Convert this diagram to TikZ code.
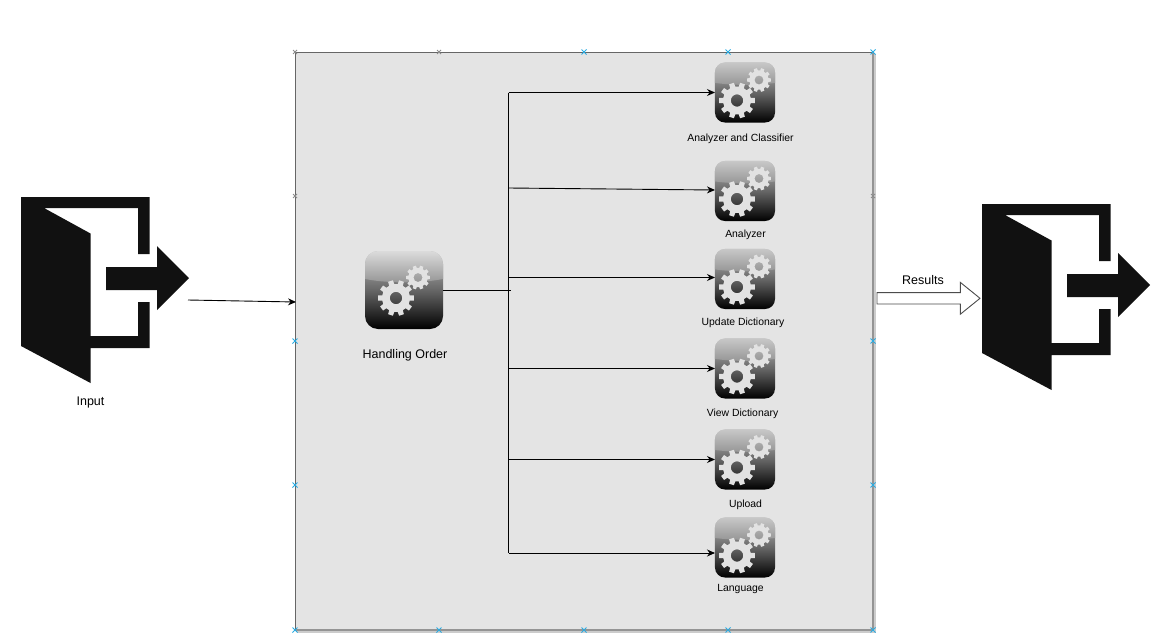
\documentclass[tikz,border=0pt]{standalone}
\usepackage{fontspec}
\setmainfont{Liberation Sans}
\usetikzlibrary{arrows.meta, calc, positioning, shapes.misc, shapes.arrows}
\definecolor{panelgrey}{HTML}{E4E4E4}
\definecolor{gearwhite}{HTML}{E2E2E2}
\definecolor{doorblack}{HTML}{111111}
\definecolor{tickblue}{HTML}{29ABE2}
\newcommand{\gearwheel}[5]{%
  \fill[gearwhite,even odd rule,sharp corners] ({#1+#3*cos(-8)},{#2+#3*sin(-8)})
    \foreach \a in {0,36,...,324} {
      -- ({#1+#3*cos(\a-8)},{#2+#3*sin(\a-8)}) -- ({#1+#3*cos(\a+8)},{#2+#3*sin(\a+8)})
      -- ({#1+#4*cos(\a+11)},{#2+#4*sin(\a+11)}) -- ({#1+#4*cos(\a+25)},{#2+#4*sin(\a+25)})
    }
    -- cycle (#1,#2) circle [radius=#5];
}
\tikzset{
  pto/.style={-{Stealth[length=8pt,width=7pt]},line width=0.9pt,black},
  alin/.style={line width=0.9pt,black},
  panel/.style={draw=black!60,fill=panelgrey,line width=0.9pt,minimum size=578pt,inner sep=0pt},
  crossmark/.style={cross out,draw=tickblue,line width=0.9pt,minimum size=5pt,inner sep=0pt,outer sep=0pt},
  greymark/.style={crossmark,draw=black!45,minimum size=4pt},
  small/.style={font=\fontsize{10.4}{12}\selectfont,inner sep=0pt},
  large/.style={font=\fontsize{12.5}{14}\selectfont,inner sep=0pt},
  icon/.style={rectangle,rounded corners=#1*13pt,minimum size=#1*78pt,inner sep=0pt,outer sep=0pt,
    top color=black!25,bottom color=black,middle color=black!60,
    path picture={
      \begin{scope}[shift={(path picture bounding box.center)},scale=#1,sharp corners]
        \shade[top color=black!14,bottom color=black!42] (-39,-39) -- (39,-39) -- (39,-11) .. controls (15,-6.5) and (-15,-6.5) .. (-39,-11) -- cycle;
        \gearwheel{-8}{8}{18}{14}{6.2}
        \gearwheel{14}{-12.5}{12}{9.6}{4.5}
      \end{scope}
    }},
  door/.style={minimum width=168pt,minimum height=186pt,inner sep=0pt,outer sep=0pt,
    path picture={
      \begin{scope}[shift={(path picture bounding box.center)}]
        \fill[doorblack] (-84,-93) -- (44.5,-93) -- (44.5,-36) -- (33,-36) -- (33,-82) -- (-61,-82) -- (-14.5,-56.5)
          -- (-14.5,46) -- (33,46) -- (33,12) -- (44.5,12) -- (44.5,58) -- (-14.5,58) -- (-14.5,93) -- (-84,56) -- cycle;
        \fill[doorblack] (1,-23) -- (52,-23) -- (52,-44) -- (84,-12) -- (52,20) -- (52,0) -- (1,0) -- cycle;
      \end{scope}
    }},
  resarrow/.style={single arrow,draw=black!70,fill=white,line width=0.9pt,minimum height=103pt,minimum width=31pt,
    single arrow head extend=10.25pt,single arrow tip angle=78,inner sep=5.25pt,outer sep=0pt}
}

\begin{document}
\begin{tikzpicture}[x=1pt,y=-1pt]
  \useasboundingbox (0,0) rectangle (1156,640);

  \node[door] (input) at (105,290) {};
  \node[door] (output) at (1066,297) {};
  \node[large] (inputtxt) at (90.5,402.5) {Input};

  % the grey panel with its shadow
  \draw[black!20,line width=2pt] (875,54) -- (875,632) -- (297,632);
  \node[panel] (box) at (584,341) {};
  \draw[black!42,line width=2pt] (box.north east) -- (box.south east) -- (box.south west);
  \foreach \x/\st in {295/greymark,439/greymark,584/crossmark,728/crossmark,873/crossmark} {
    \node[\st] (top\x) at (\x,52) {};
  }
  \foreach \x in {295,439,584,728,873} {
    \node[crossmark] (bot\x) at (\x,630) {};
  }
  \foreach \y/\st in {196/greymark,341/crossmark,485/crossmark} {
    \node[\st] (lft\y) at (295,\y) {};
    \node[\st] (rgt\y) at (873,\y) {};
  }

  \node[icon=1] (hand) at (404,290) {};
  \node[large] (handtxt) at (405,355.5) {Handling Order};

  \node[icon=0.77] (ana) at (745,92.5) {};
  \node[icon=0.77] (anb) at (745,191) {};
  \node[icon=0.77] (upd) at (745,279) {};
  \node[icon=0.77] (vie) at (745,368.5) {};
  \node[icon=0.77] (upl) at (745,459.5) {};
  \node[icon=0.77] (lan) at (745,547.5) {};

  \node[small] (anatxt) at (740.5,139) {Analyzer and Classifier};
  \node[small] (anbtxt) at (745.5,235) {Analyzer};
  \node[small] (updtxt) at (743,323) {Update Dictionary};
  \node[small] (vietxt) at (742.5,414) {View Dictionary};
  \node[small] (upltxt) at (745.5,505) {Upload};
  \node[small] (lantxt) at (740.5,589) {Language};

  \coordinate (bustop) at (508.5,92.5);
  \coordinate (busanb) at (508.5,188);
  \coordinate (busupd) at (508.5,277.5);
  \coordinate (busvie) at (508.5,368.5);
  \coordinate (busupl) at (508.5,459.5);
  \coordinate (busend) at (508.5,553);
  \coordinate (busout) at (511,290);
  \coordinate (ina) at (188,300);
  \coordinate (inb) at (296,302);

  \draw[pto] (ina) -- (inb);
  \draw[alin] (hand.east) -- (busout);
  \draw[alin] (bustop) -- (busend);
  \draw[pto] (bustop) -- (ana.west);
  \draw[pto] (busanb) -- ($(anb.west)+(0,-1)$);
  \draw[pto] (busupd) -- (busupd -| upd.west);
  \draw[pto] (busvie) -- (vie.west);
  \draw[pto] (busupl) -- (upl.west);
  \draw[pto] (busend) -- (busend -| lan.west);

  \node[resarrow,anchor=tail] (res) at (877,298.3) {};
  \node[large] (restxt) at (923,280.5) {Results};
\end{tikzpicture}
\end{document}
